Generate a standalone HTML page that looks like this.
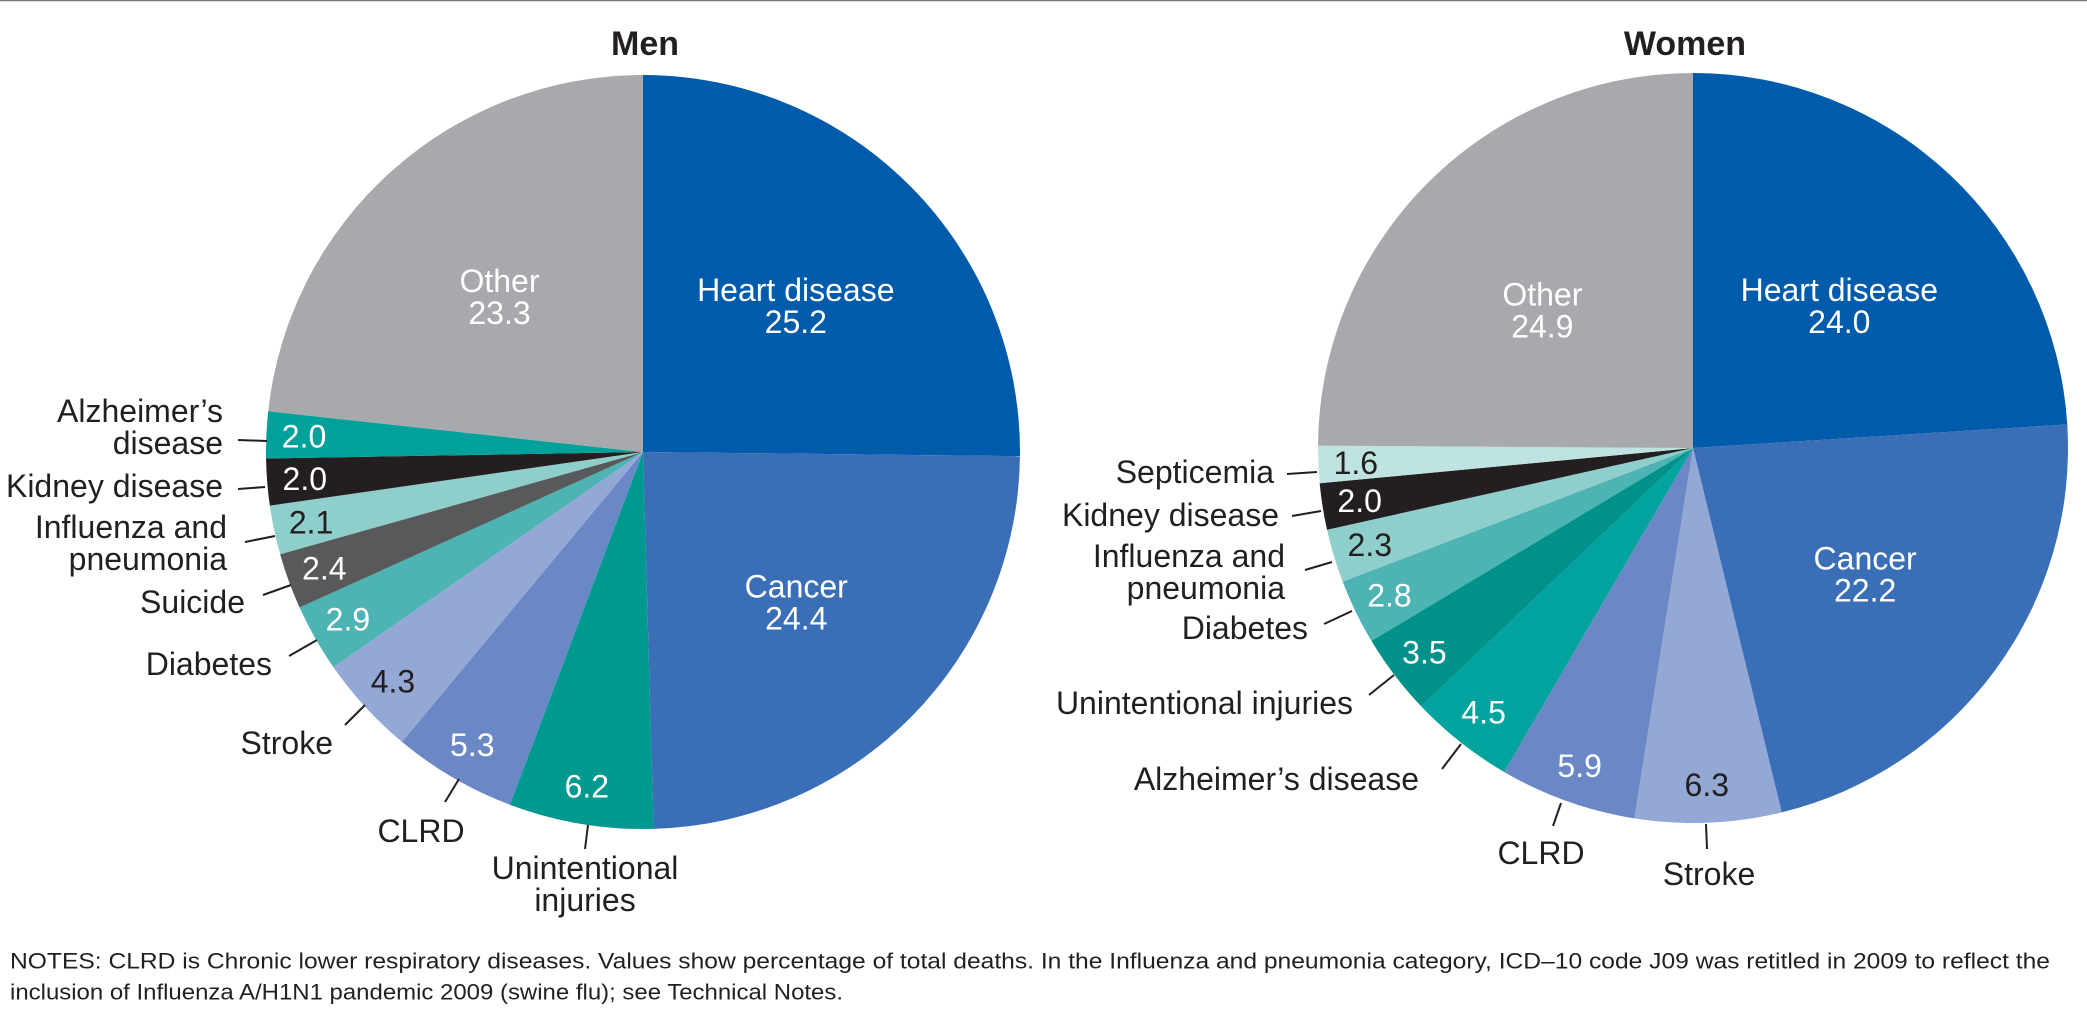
<!DOCTYPE html>
<html><head><meta charset="utf-8"><style>
html,body{margin:0;padding:0;background:#fff}
svg{display:block;font-family:"Liberation Sans",Arial,sans-serif}
</style></head><body>
<svg id="chart" width="2087" height="1024" viewBox="0 0 2087 1024" xmlns="http://www.w3.org/2000/svg">
<rect x="0" y="0" width="2087" height="1024" fill="#fff"/>
<line x1="0" y1="0.5" x2="2087" y2="0.5" stroke="#777" stroke-width="1.5"/>
<text x="645" y="44" text-anchor="middle" dominant-baseline="central" font-size="34" font-weight="bold" fill="#231f20">Men</text>
<text x="1685" y="44" text-anchor="middle" dominant-baseline="central" font-size="34" font-weight="bold" fill="#231f20">Women</text>
<g id="men"></g>
<g id="women"></g>
<g id="annot"></g>
<text x="10" y="961" font-size="22" fill="#231f20" dominant-baseline="central" textLength="2040" lengthAdjust="spacingAndGlyphs">NOTES: CLRD is Chronic lower respiratory diseases. Values show percentage of total deaths. In the Influenza and pneumonia category, ICD–10 code J09 was retitled in 2009 to reflect the</text>
<text x="10" y="992" font-size="22" fill="#231f20" dominant-baseline="central" textLength="833" lengthAdjust="spacingAndGlyphs">inclusion of Influenza A/H1N1 pandemic 2009 (swine flu); see Technical Notes.</text>
</svg>
<script>
const menCategories = ["Heart disease","Cancer","Unintentional injuries","CLRD","Stroke","Diabetes","Suicide","Influenza and pneumonia","Kidney disease","Alzheimer's disease","Other"];
const menValues = [25.2,24.4,6.2,5.3,4.3,2.9,2.4,2.1,2.0,2.0,23.3];
const menColors = ["#005bab","#3a6fb7","#00998f","#6b88c6","#94a8d6","#4db3b3","#58595b","#8ecfcc","#231f20","#00a19a","#a7a9ac"];
const menDark = [false,false,false,false,true,false,false,true,false,false,false];

const womenCategories = ["Heart disease","Cancer","Stroke","CLRD","Alzheimer's disease","Unintentional injuries","Diabetes","Influenza and pneumonia","Kidney disease","Septicemia","Other"];
const womenValues = [24.0,22.2,6.3,5.9,4.5,3.5,2.8,2.3,2.0,1.6,24.9];
const womenColors = ["#005bab","#3a6fb7","#94a8d6","#6b88c6","#00a39d","#00918b","#4db3b3","#8ecfcc","#231f20","#bfe3e0","#a7a9ac"];
const womenDark = [false,false,true,false,false,false,false,true,false,true,false];

const NS="http://www.w3.org/2000/svg";
function mk(tag,attrs,parent){const e=document.createElementNS(NS,tag);for(const k in attrs)e.setAttribute(k,attrs[k]);parent.appendChild(e);return e;}
function slug(s){return s.toLowerCase().replace(/[^a-z0-9]+/g,'-').replace(/-$/,'');}

function drawPie(gid,cx,cy,r,cats,vals,cols,dark,bigShift){
  const g=document.getElementById(gid);
  const total=vals.reduce((a,b)=>a+b,0);
  let acc=0;
  vals.forEach((v,i)=>{
    const a0=acc/total*2*Math.PI; acc+=v; const a1=acc/total*2*Math.PI;
    const p=a=>[cx+r*Math.sin(a),cy-r*Math.cos(a)];
    const [x0,y0]=p(a0),[x1,y1]=p(a1);
    const large=(a1-a0)>Math.PI?1:0;
    const path=mk('path',{d:`M${cx},${cy} L${x0},${y0} A${r},${r} 0 ${large} 1 ${x1},${y1} Z`,fill:cols[i]},g);
    
    
    const am=(a0+a1)/2;
    const big=v>=15;
    const rr=big?0.57*r:0.9*r;
    let lx=cx+rr*Math.sin(am), ly=cy-rr*Math.cos(am);
    if(big && Math.cos(am)>0){ ly+=bigShift; }
    const fill=dark[i]?'#231f20':'#fff';
    if(big){
      const t=mk('text',{x:lx,y:ly-16,'text-anchor':'middle','dominant-baseline':'central','font-size':32,fill:fill},g);
      t.textContent=cats[i];
      
      
      const t2=mk('text',{x:lx,y:ly+16,'text-anchor':'middle','dominant-baseline':'central','font-size':32,fill:fill},g);
      t2.textContent=v.toFixed(1);
      
      
    } else {
      const t=mk('text',{x:lx,y:ly,'text-anchor':'middle','dominant-baseline':'central','font-size':32,fill:fill},g);
      t.textContent=v.toFixed(1);
      
      
    }
  });
}
drawPie('men',643,452,377,menCategories,menValues,menColors,menDark,5);
drawPie('women',1693,448,375,womenCategories,womenValues,womenColors,womenDark,14);

const callouts=[
 [["Alzheimer’s","disease"],223,411,'end',[238,440,267,441]],
 [["Kidney disease"],223,486,'end',[238,489,265,487]],
 [["Influenza and","pneumonia"],227,527,'end',[245,542,275,536]],
 [["Suicide"],245,602,'end',[263,595,291,585]],
 [["Diabetes"],272,664,'end',[289,656,317,640]],
 [["Stroke"],333,743,'end',[345,725,365,705]],
 [["CLRD"],421,831,'middle',[445,802,459,779]],
 [["Unintentional","injuries"],585,868,'middle',[585,849,588,825]],
 [["Septicemia"],1274,472,'end',[1287,474,1317,472]],
 [["Kidney disease"],1279,515,'end',[1292,516,1321,511]],
 [["Influenza and","pneumonia"],1285,556,'end',[1305,570,1332,562]],
 [["Diabetes"],1308,628,'end',[1324,624,1352,611]],
 [["Unintentional injuries"],1353,703,'end',[1369,695,1394,675]],
 [["Alzheimer’s disease"],1419,779,'end',[1442,769,1461,744]],
 [["CLRD"],1541,853,'middle',[1553,826,1561,803]],
 [["Stroke"],1709,874,'middle',[1707,849,1706,824]]
];
const ag=document.getElementById('annot');
callouts.forEach((c,i)=>{
  c[0].forEach((line,j)=>{
    const t=mk('text',{x:c[1],y:c[2]+j*32,'text-anchor':c[3],'dominant-baseline':'central','font-size':32,fill:'#231f20'},ag);
    t.textContent=line;
    
    
  });
  const l=c[4];
  const ln=mk('line',{x1:l[0],y1:l[1],x2:l[2],y2:l[3],stroke:'#231f20','stroke-width':2},ag);
  
  
});
</script>
</body></html>
